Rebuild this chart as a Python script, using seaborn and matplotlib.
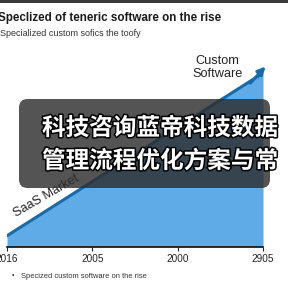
import matplotlib
matplotlib.use("Agg")
import matplotlib.pyplot as plt
import matplotlib.patheffects as pe
from matplotlib.patches import FancyBboxPatch, Rectangle
import seaborn as sns
import pandas as pd

# ---- data ----
categories = ["2016", "2005", "2000", "2905"]
positions = [0, 1, 2, 3]
market_values = [6, 35, 64, 93]

title = "Speclized of teneric software on the rise"
subtitle = "Specialized custom sofics the toofy"
legend_label = "Specized custom software on the rise"
overlay_lines = ["科技咨询蓝帝科技数据", "管理流程优化方案与常"]

df = pd.DataFrame({"x": positions, "y": market_values})

sns.set_theme(style="white")
plt.rcParams["font.family"] = ["Liberation Sans", "DejaVu Sans", "Noto Sans CJK SC"]

fig = plt.figure(figsize=(2.88, 2.88), dpi=100)
fig.patch.set_facecolor("white")
ax = fig.add_axes([7/288, 41/288, 256/288, 187/288])

fill_col = "#5eabe8"
line_col = "#1a6aa8"

ax.fill_between(df["x"], 0, df["y"], color=fill_col, lw=0, zorder=1)
sns.lineplot(data=df, x="x", y="y", color=line_col, lw=2.2, ax=ax, zorder=3)
ax.annotate("", xy=(3.03, 96.5), xytext=(2.85, 87.6),
            arrowprops=dict(arrowstyle="-|>", color=line_col, lw=2.2,
                            mutation_scale=11, shrinkA=0, shrinkB=0),
            annotation_clip=False, zorder=4)

ax.set_xlim(0, 3)
ax.set_ylim(0, 100)
ax.set_xticks(positions)
ax.set_xticklabels(categories, fontsize=7.2, color="#222222")
ax.set_yticks([])
ax.set_xlabel("")
ax.set_ylabel("")
for s in ["top", "right", "left"]:
    ax.spines[s].set_visible(False)
ax.spines["bottom"].set_color("#111111")
ax.spines["bottom"].set_linewidth(1.2)
ax.tick_params(axis="x", bottom=True, length=3, width=0.8, color="#222222", pad=2)
ax.patch.set_alpha(0)

# labels on chart
ax.text(0.46, 27.5, "SaaS Market", rotation=30, fontsize=9.2, color="#222222",
        ha="center", va="center", rotation_mode="anchor", zorder=5)
ax.text(2.47, 96, "Custom\nSoftware", fontsize=9.2, color="#222222",
        ha="center", va="center", linespacing=1.05, clip_on=False)

# header
fig.add_artist(Rectangle((0, 1 - 3/288), 1, 3/288, transform=fig.transFigure,
                         color="#3a3a3a", lw=0))
fig.text(-0.007, 1 - 18/288, title, fontsize=8.4, fontweight="bold",
         color="#1a1a1a", ha="left", va="center")
fig.text(0.0, 1 - 33/288, subtitle, fontsize=6.5, color="#333333",
         ha="left", va="center")

# legend-ish footer
fig.text(12/288, 1 - 276/288, "•", fontsize=5, color="#333333", ha="left", va="center")
fig.text(21/288, 1 - 276/288, legend_label, fontsize=5.4, color="#333333",
         ha="left", va="center")

# overlay box
box = FancyBboxPatch((19/288, 1 - 188/288), 251/288, 89/288,
                     boxstyle="round,pad=0,rounding_size=0.03",
                     transform=fig.transFigure, facecolor="#2e2e2e",
                     edgecolor="none", alpha=0.82, zorder=10)
fig.add_artist(box)
for i, line in enumerate(overlay_lines):
    t = fig.text(42/288, 1 - (128 + 33 * i)/288, line, fontsize=17.0,
                 fontweight="bold", color="white", ha="left", va="center",
                 family=["Noto Sans CJK SC", "DejaVu Sans"], zorder=11)
    t.set_path_effects([pe.withStroke(linewidth=2.2, foreground="black")])

fig.savefig("out.png", dpi=100, facecolor="white")
